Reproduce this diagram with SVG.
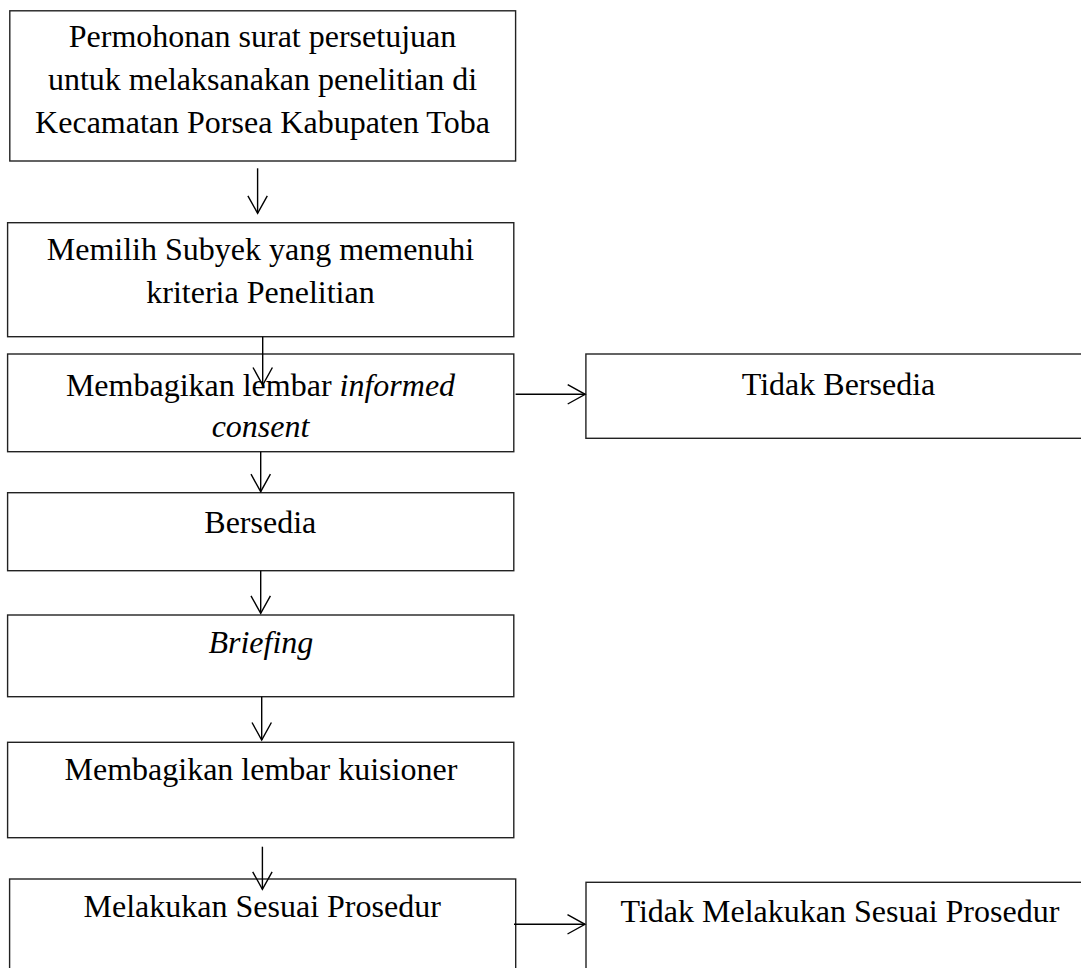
<svg xmlns="http://www.w3.org/2000/svg" width="1081" height="968" viewBox="0 0 1081 968">
  <style>
    .box { fill: #ffffff; stroke: #222222; stroke-width: 1.4; }
    .lbl { font-family: "Liberation Serif", "Times New Roman", serif; font-size: 32px; fill: #000000; text-anchor: middle; }
    .it { font-style: italic; }
    .conn { stroke: #000000; stroke-width: 1.4; fill: none; }
  </style>
  <defs>
    <marker id="chev" markerUnits="userSpaceOnUse" viewBox="0 0 20 22" markerWidth="20" markerHeight="22" refX="18.5" refY="11" orient="auto">
      <path d="M1,1.3 L18.5,11 L1,20.7" fill="none" stroke="#000000" stroke-width="1.4"/>
    </marker>
  </defs>
  <rect width="1081" height="968" fill="#ffffff"/>

  <g id="n1">
    <rect class="box" x="9.8" y="10.8" width="505.8" height="150.2"/>
    <text class="lbl" x="262.5" y="46.7">Permohonan surat persetujuan</text>
    <text class="lbl" x="262.5" y="90">untuk melaksanakan penelitian di</text>
    <text class="lbl" x="262.5" y="133.3">Kecamatan Porsea Kabupaten Toba</text>
  </g>
  <g id="n2">
    <rect class="box" x="7.6" y="222.7" width="506.2" height="114"/>
    <text class="lbl" x="260.5" y="260">Memilih Subyek yang memenuhi</text>
    <text class="lbl" x="260.5" y="303.3">kriteria Penelitian</text>
  </g>
  <g id="n3">
    <rect class="box" x="7.6" y="354" width="506.2" height="97.7"/>
    <text class="lbl" x="260.5" y="395.7">Membagikan lembar <tspan class="it">informed</tspan></text>
    <text class="lbl it" x="260.5" y="437.3">consent</text>
  </g>
  <g id="n4">
    <rect class="box" x="585.9" y="354" width="510" height="84.3"/>
    <text class="lbl" x="838.5" y="395">Tidak Bersedia</text>
  </g>
  <g id="n5">
    <rect class="box" x="7.6" y="492.7" width="506.2" height="78"/>
    <text class="lbl" x="260.3" y="532.7">Bersedia</text>
  </g>
  <g id="n6">
    <rect class="box" x="7.6" y="615" width="506.2" height="81.7"/>
    <text class="lbl it" x="260.9" y="653.3">Briefing</text>
  </g>
  <g id="n7">
    <rect class="box" x="7.6" y="742.3" width="506.2" height="95.4"/>
    <text class="lbl" x="260.9" y="780">Membagikan lembar kuisioner</text>
  </g>
  <g id="n8">
    <rect class="box" x="9.6" y="879" width="506.1" height="100"/>
    <text class="lbl" x="262.2" y="916.7">Melakukan Sesuai Prosedur</text>
  </g>
  <g id="n9">
    <rect class="box" x="586" y="882.3" width="510" height="100"/>
    <text class="lbl" x="839.9" y="921.7">Tidak Melakukan Sesuai Prosedur</text>
  </g>

  <g id="connectors">
    <line class="conn" x1="257.6" y1="168.3" x2="257.6" y2="213.3" marker-end="url(#chev)"/>
    <line class="conn" x1="262.7" y1="336.7" x2="262.7" y2="385" marker-end="url(#chev)"/>
    <line class="conn" x1="260.7" y1="451.7" x2="260.7" y2="491.7" marker-end="url(#chev)"/>
    <line class="conn" x1="515.6" y1="394.3" x2="585.2" y2="394.3" marker-end="url(#chev)"/>
    <line class="conn" x1="260.7" y1="570.7" x2="260.7" y2="613.3" marker-end="url(#chev)"/>
    <line class="conn" x1="261.7" y1="696.7" x2="261.7" y2="740" marker-end="url(#chev)"/>
    <line class="conn" x1="262.4" y1="846.7" x2="262.4" y2="889.3" marker-end="url(#chev)"/>
    <line class="conn" x1="514" y1="924.3" x2="585" y2="924.3" marker-end="url(#chev)"/>
  </g>
</svg>
